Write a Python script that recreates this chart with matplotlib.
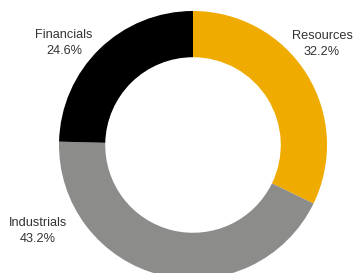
import matplotlib
matplotlib.use("Agg")
import matplotlib.pyplot as plt

plt.rcParams['font.family'] = ['Liberation Sans', 'DejaVu Sans']

# data
sectors = ['Resources', 'Industrials', 'Financials']
shares = [32.2, 43.2, 24.6]
colors = ['#F0AB00', '#8C8D8B', '#000000']

# label anchor positions in pixel space (x, y from top)
label_pos = {
    'Resources': (322, 44),
    'Industrials': (38, 231),
    'Financials': (64, 43),
}

W, H = 353, 273
fig = plt.figure(figsize=(W / 100, H / 100), dpi=100)
ax = fig.add_axes([0, 0, 1, 1])

cx, cy, r = 193, H - 145, 134
ax.pie(shares, colors=colors, startangle=90, counterclock=False,
       center=(cx, cy), radius=r, frame=True,
       wedgeprops=dict(width=r * 0.345, linewidth=0))
ax.set_xlim(0, W)
ax.set_ylim(0, H)
ax.axis('off')

for name, val in zip(sectors, shares):
    x, y = label_pos[name]
    ax.text(x, H - y, f"{name}\n{val:.1f}%", ha='center', va='center',
            fontsize=9.2, color='#333333', linespacing=1.5)

fig.savefig('out.png', dpi=100)
